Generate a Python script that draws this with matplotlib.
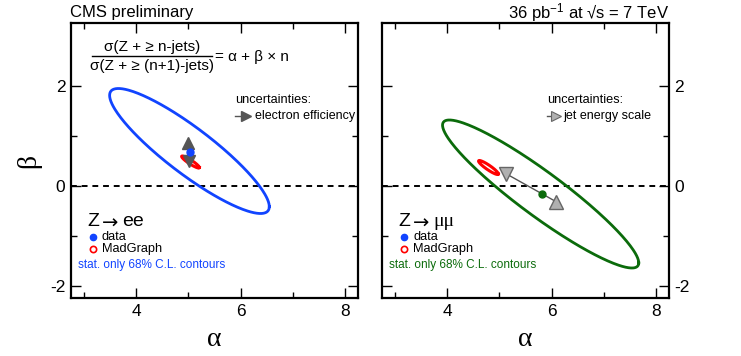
import numpy as np
import matplotlib
matplotlib.use('Agg')
import matplotlib.pyplot as plt
from matplotlib.ticker import FixedLocator

plt.rcParams['font.family'] = ['Liberation Sans', 'DejaVu Sans']
plt.rcParams['axes.unicode_minus'] = False
plt.rcParams['mathtext.default'] = 'regular'

# 68% C.L. contours: centre alpha, centre beta, half-extent alpha, half-extent beta, correlation
ee_data_ell = [5.02, 0.69, 1.53, 1.25, -0.89]
ee_mg_ell = [5.04, 0.47, 0.17, 0.12, -0.92]
mm_data_ell = [5.79, -0.17, 1.88, 1.48, -0.93]
mm_mg_ell = [4.79, 0.36, 0.19, 0.14, -0.92]

# data points and systematic shifts (electron efficiency / jet energy scale)
ee_point = [5.03, 0.68]
ee_shift_up = [5.00, 0.86]
ee_shift_down = [5.01, 0.50]
mm_point = [5.81, -0.16]
mm_shift_up = [6.08, -0.32]
mm_shift_down = [5.12, 0.24]

BLUE = '#1144ff'
GREEN = '#0b6b0b'
RED = '#ff0000'

W, H = 741, 356


def fx(px):
    return px / W


def fy(py):
    return 1 - py / H


def draw_ellipse(ax, par, color, lw):
    cx, cy, ha, hb, rho = par
    t = np.linspace(0, 2 * np.pi, 300)
    phi = np.arccos(rho)
    ax.plot(cx + ha * np.cos(t), cy + hb * np.cos(t + phi), color=color, lw=lw)


def style_axes(ax, right_labels):
    ax.set_xlim(2.75, 8.25)
    ax.set_ylim(-2.25, 3.25)
    ax.xaxis.set_major_locator(FixedLocator([4, 6, 8]))
    ax.xaxis.set_minor_locator(FixedLocator([3, 5, 7]))
    ax.yaxis.set_major_locator(FixedLocator([-2, 0, 2]))
    ax.yaxis.set_minor_locator(FixedLocator([-1, 1]))
    ax.tick_params(which='both', direction='in', top=True, right=True, width=1.0,
                   labelsize=12.5, pad=4)
    ax.tick_params(which='major', length=7)
    ax.tick_params(which='minor', length=4)
    if right_labels:
        ax.tick_params(axis='y', labelleft=False, labelright=True)
    for s in ax.spines.values():
        s.set_linewidth(1.6)
    ax.axhline(0, color='black', ls=(0, (3, 2.5)), lw=1.4)
    ax.set_xlabel('α', family='Liberation Serif', fontsize=20, labelpad=6)


fig = plt.figure(figsize=(W / 100, H / 100), dpi=100)
ax1 = fig.add_axes([fx(71), fy(298), 287 / W, 275 / H])
ax2 = fig.add_axes([fx(382), fy(298), 287 / W, 275 / H])

style_axes(ax1, False)
style_axes(ax2, True)
ax1.set_ylabel('β', family='Liberation Serif', fontsize=20, labelpad=6)

# left: Z -> ee
draw_ellipse(ax1, ee_data_ell, BLUE, 2.0)
draw_ellipse(ax1, ee_mg_ell, RED, 2.2)
ax1.plot([ee_shift_up[0], ee_shift_down[0]], [ee_shift_up[1], ee_shift_down[1]],
         color='#555555', lw=1.0)
ax1.plot(*ee_shift_up, marker='^', ms=8, color='#555555', mec='#555555')
ax1.plot(*ee_shift_down, marker='v', ms=8, color='#555555', mec='#555555')
ax1.plot(*ee_point, marker='o', ms=5, color=BLUE, mec=BLUE)

# right: Z -> mumu
draw_ellipse(ax2, mm_data_ell, GREEN, 2.0)
draw_ellipse(ax2, mm_mg_ell, RED, 2.2)
ax2.plot([mm_shift_down[0], mm_shift_up[0]], [mm_shift_down[1], mm_shift_up[1]],
         color='#555555', lw=1.0)
ax2.plot(*mm_shift_up, marker='^', ms=10, color='#b0b0b0', mec='#666666', mew=1.0)
ax2.plot(*mm_shift_down, marker='v', ms=10, color='#b0b0b0', mec='#666666', mew=1.0)
ax2.plot(*mm_point, marker='o', ms=5, color=GREEN, mec=GREEN)

# header texts
fig.text(fx(70), fy(13), 'CMS preliminary', fontsize=12, va='center', ha='left')
fig.text(fx(669), fy(13), '36 pb$^{-1}$ at \u221as = 7 TeV', fontsize=12,
         va='center', ha='right')

# formula
fig.text(fx(152), fy(47), 'σ(Z + ≥ n-jets)', fontsize=11, ha='center', va='center')
fig.text(fx(152), fy(66), 'σ(Z + ≥ (n+1)-jets)', fontsize=11, ha='center', va='center')
fig.add_artist(plt.Line2D([fx(92), fx(212)], [fy(56), fy(56)], color='black', lw=1.0))
fig.text(fx(215), fy(57), '= α + β × n', fontsize=11, ha='left', va='center')

# uncertainty legends
fig.text(fx(235), fy(100), 'uncertainties:', fontsize=9.2, ha='left', va='center')
fig.add_artist(plt.Line2D([fx(235), fx(246)], [fy(116), fy(116)], color='#555555', lw=1.0))
fig.add_artist(plt.Line2D([fx(246)], [fy(116)], marker='>', ms=7, color='#555555'))
fig.text(fx(255), fy(116), 'electron efficiency', fontsize=9, ha='left', va='center')

fig.text(fx(547), fy(100), 'uncertainties:', fontsize=9.2, ha='left', va='center')
fig.add_artist(plt.Line2D([fx(547), fx(556)], [fy(116), fy(116)], color='#555555', lw=1.0))
fig.add_artist(plt.Line2D([fx(556)], [fy(116)], marker='>', ms=7, color='#b0b0b0',
                          mec='#666666', mew=0.8))
fig.text(fx(563), fy(116), 'jet energy scale', fontsize=9, ha='left', va='center')

# channel legends
for x0, lep, lep_font, col in [(87, 'ee', 'Liberation Sans', BLUE),
                               (398, '\u03bc\u03bc', 'Liberation Serif', GREEN)]:
    fig.text(fx(x0), fy(222), 'Z', fontsize=14, ha='left', va='center')
    fig.text(fx(x0 + 15), fy(223), '\u2192', fontsize=14, ha='left', va='center',
             family='DejaVu Sans')
    fig.text(fx(x0 + 35), fy(222), lep, fontsize=14, ha='left', va='center',
             family=lep_font)
    fig.add_artist(plt.Line2D([fx(x0 + 6)], [fy(237)], marker='o', ms=4.5,
                              color=BLUE, mec=BLUE))
    fig.text(fx(x0 + 15), fy(237), 'data', fontsize=9.2, ha='left', va='center')
    fig.add_artist(plt.Line2D([fx(x0 + 6)], [fy(249)], marker='o', ms=4.5,
                              mfc='white', mec=RED, mew=1.2))
    fig.text(fx(x0 + 15), fy(249), 'MadGraph', fontsize=9.2, ha='left', va='center')
    fig.text(fx(x0 - 9), fy(265), 'stat. only 68% C.L. contours', fontsize=8.5,
             ha='left', va='center', color=col)

fig.savefig('out.png', dpi=100)
